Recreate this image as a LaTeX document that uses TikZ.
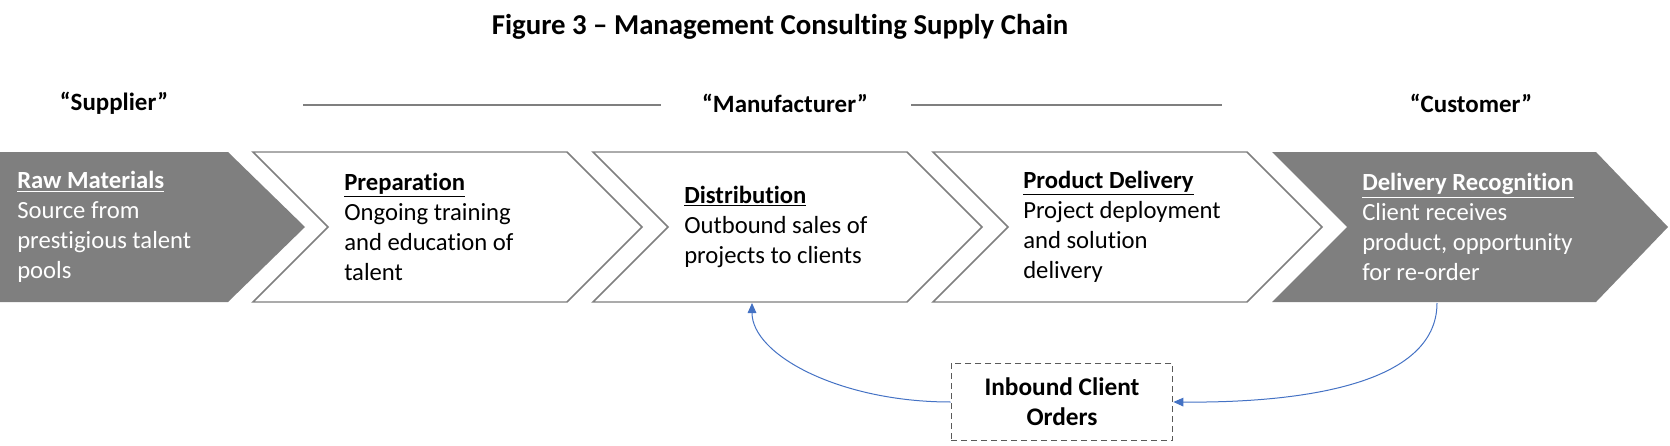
\documentclass[tikz,border=0pt]{standalone}
\usepackage{fontspec}
\setmainfont{Carlito}[Ligatures=NoCommon]
\usetikzlibrary{arrows.meta}
\usetikzlibrary{positioning}

\definecolor{chevgrey}{HTML}{7F7F7F}
\definecolor{boxgrey}{HTML}{595959}
\definecolor{loopblue}{HTML}{4472C4}

\tikzset{
    greychev/.style={fill=chevgrey, draw=none},
    whitechev/.style={fill=white, draw=chevgrey, line width=1.1pt, line join=miter},
    stagetext/.style={anchor=west, align=left, inner sep=0pt, font=\fontsize{18.5}{22.4}\selectfont},
    rolelabel/.style={font=\fontsize{18.7}{22}\selectfont\bfseries},
    orderbox/.style={draw=boxgrey, line width=1.1pt, dash pattern=on 4.5pt off 3pt, align=center,
        minimum width=166pt, minimum height=58pt, font=\fontsize{19}{22.4}\selectfont\bfseries},
    feedback/.style={draw=loopblue, line width=0.75pt, -{Triangle[length=7.5pt,width=6.5pt]}}
}

\begin{document}
\begin{tikzpicture}[x=0.75pt, y=-0.75pt]
    \useasboundingbox (0,0) rectangle (1670,446);

    % title and roles
    \node [font=\fontsize{21.6}{24}\selectfont\bfseries] (title) at (780,27) {Figure 3 – Management Consulting Supply Chain};
    \node [rolelabel] (supplier) at (114,103) {“Supplier”};
    \node [rolelabel] (maker) at (785,103) {“Manufacturer”};
    \node [rolelabel] (customer) at (1471,103) {“Customer”};
    \draw [chevgrey, line width=1.1pt] (303,105) -- (661,105);
    \draw [chevgrey, line width=1.1pt] (911,105) -- (1222,105);

    % chevrons
    \draw [greychev] (0,152) -- (228,152) -- (305,227) -- (228,302) -- (0,302) -- cycle;
    \draw [whitechev] (253,152) -- (567,152) -- (642,227) -- (567,302) -- (253,302) -- (328,227) -- cycle;
    \draw [whitechev] (593,152) -- (907,152) -- (982,227) -- (907,302) -- (593,302) -- (668,227) -- cycle;
    \draw [whitechev] (933,152) -- (1247,152) -- (1322,227) -- (1247,302) -- (933,302) -- (1008,227) -- cycle;
    \draw [greychev] (1272,152) -- (1596,152) -- (1668,227) -- (1596,302) -- (1272,302) -- (1347,227) -- cycle;

    \node [stagetext, text=white] (raw) at (17,227) {\underline{\textbf{Raw Materials}}\\Source from\\prestigious talent\\pools};
    \node [stagetext] (prep) at (344,227) {\underline{\textbf{Preparation}}\\Ongoing training\\and education of\\talent};
    \node [stagetext] (dist) at (684,227) {\underline{\textbf{Distribution}}\\Outbound sales of\\projects to clients};
    \node [stagetext] (deliv) at (1023,227) {\underline{\textbf{Product Delivery}}\\Project deployment\\and solution\\delivery};
    \node [stagetext, text=white] (recog) at (1362,227) {\underline{\textbf{Delivery Recognition}}\\Client receives\\product, opportunity\\for re-order};

    % order loop
    \node [orderbox] (orders) at (1062,402) {Inbound Client\\Orders};
    \coordinate (recogfoot) at (1437,303);
    \coordinate (distfoot) at (752,303);
    \draw [feedback] (recogfoot) .. controls (1437,385) and (1300,403) .. (orders.east);
    \draw [feedback] (orders.west) .. controls (840,402) and (752,355) .. (distfoot);
\end{tikzpicture}
\end{document}
